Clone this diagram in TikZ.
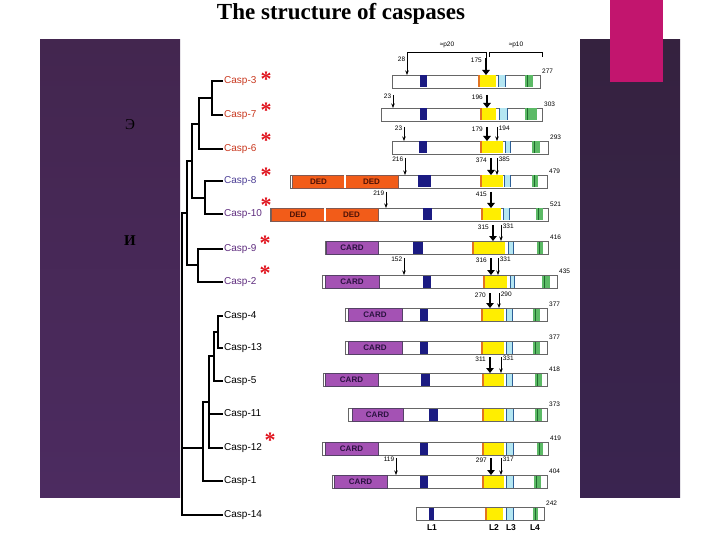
\documentclass[tikz,border=0pt]{standalone}
\usepackage{fontspec}
\setmainfont{Liberation Serif}
\setsansfont{Liberation Sans}
\usepackage{xcolor}
\usepackage{tikz}
\usetikzlibrary{arrows.meta}

\definecolor{apored}{HTML}{C8371E}
\definecolor{apoblue}{HTML}{4A3C94}
\definecolor{apopurple}{HTML}{5E2C7E}
\definecolor{starred}{HTML}{E0141E}
\definecolor{dedorange}{HTML}{F25C19}
\definecolor{dedtext}{HTML}{4E1206}
\definecolor{cardpurple}{HTML}{A452B4}
\definecolor{cardtext}{HTML}{2A1240}
\definecolor{navybox}{HTML}{1B1B82}
\definecolor{loopyellow}{HTML}{FFEE00}
\definecolor{looporange}{HTML}{E27420}
\definecolor{loopcyan}{HTML}{B4E6F2}
\definecolor{loopteal}{HTML}{2C5E96}
\definecolor{loopgreen}{HTML}{5CBA66}
\definecolor{loopdkgreen}{HTML}{1F6B2E}
\definecolor{pinktab}{HTML}{C2156E}
\definecolor{paneltop}{HTML}{43264F}
\definecolor{panelmid}{HTML}{6B3472}
\definecolor{panelbot}{HTML}{4C2B60}
\definecolor{rpaneltop}{HTML}{35223F}
\definecolor{rpanelmid}{HTML}{4D2A5C}
\definecolor{rpanelbot}{HTML}{3A2450}

\begin{document}
\begin{tikzpicture}[x=1pt,y=-1pt,
      casp node/.style={anchor=west,inner sep=1pt,font=\sffamily\fontsize{10}{11}\selectfont},
      star node/.style={anchor=base,inner sep=0pt,text=starred,font=\bfseries\fontsize{22}{22}\selectfont},
      tree line/.style={line width=1.4pt},
      bar node/.style={draw=black!60,line width=0.9pt,fill=white,inner sep=0pt,outer sep=0pt,minimum height=13pt,anchor=north west},
      ded node/.style={bar node,draw=dedtext!70,fill=dedorange,text=dedtext,font=\sffamily\bfseries\fontsize{8}{9}\selectfont},
      card node/.style={bar node,draw=cardtext!80,fill=cardpurple,text=cardtext,font=\sffamily\bfseries\fontsize{8}{9}\selectfont},
      len node/.style={anchor=south west,inner sep=0pt,font=\sffamily\fontsize{6.5}{7}\selectfont},
      cut thin/.style={-{Stealth[length=4.5pt,width=3.5pt]},line width=0.7pt},
      cut thick/.style={-{Triangle[length=5pt,width=7.5pt]},line width=2.4pt},
      lab left/.style={len node,anchor=north east,xshift=-1.5pt,yshift=1pt},
      lab right/.style={len node,anchor=north west,xshift=1.5pt,yshift=1pt},
      lab thick/.style={len node,anchor=north east,xshift=-3pt,yshift=1pt}]
    \useasboundingbox (0,0) rectangle (720,540);

    % slide background
    \shade[top color=paneltop,middle color=panelmid,bottom color=panelbot] (40,40) rectangle (180,497);
    \shade[top color=rpaneltop,middle color=rpanelmid,bottom color=rpanelbot] (580,40) rectangle (680,497);
    \fill[pinktab] (610,0) rectangle (663,82);

    \node[font=\bfseries\fontsize{23}{24}\selectfont] (title) at (341,14) {The structure of caspases};
    \node[font=\fontsize{15}{16}\selectfont,text=black] (ee) at (130,125) {Э};
    \node[font=\bfseries\fontsize{15}{16}\selectfont] (ii) at (130,241) {И};

    % names
    \node[casp node,text=apored] (c3) at (223,81) {Casp-3};
    \node[casp node,text=apored] (c7) at (223,115) {Casp-7};
    \node[casp node,text=apored] (c6) at (223,149) {Casp-6};
    \node[casp node,text=apoblue] (c8) at (223,181) {Casp-8};
    \node[casp node,text=apopurple] (c10) at (223,214) {Casp-10};
    \node[casp node,text=apopurple] (c9) at (223,249) {Casp-9};
    \node[casp node,text=apopurple] (c2) at (223,282) {Casp-2};
    \node[casp node] (c4) at (223,316) {Casp-4};
    \node[casp node] (c13) at (223,348) {Casp-13};
    \node[casp node] (c5) at (223,381) {Casp-5};
    \node[casp node] (c11) at (223,414) {Casp-11};
    \node[casp node] (c12) at (223,448) {Casp-12};
    \node[casp node] (c1) at (223,481) {Casp-1};
    \node[casp node] (c14) at (223,515) {Casp-14};

    \node[star node] (s3) at (266,87) {*};
    \node[star node] (s7) at (266,118) {*};
    \node[star node] (s6) at (266,148) {*};
    \node[star node] (s8) at (266,183) {*};
    \node[star node] (s10) at (266,213) {*};
    \node[star node] (s9) at (265,250) {*};
    \node[star node] (s2) at (265,280) {*};
    \node[star node] (s12) at (270,447) {*};

    % tree
    \coordinate (j37) at (212,98);
    \coordinate (j376) at (199,124);
    \coordinate (j810) at (205,198);
    \coordinate (jA) at (192,161);
    \coordinate (j92) at (198,265);
    \coordinate (jApo) at (187,213);
    \coordinate (j413) at (218,332);
    \coordinate (j4135) at (214,356);
    \coordinate (j1112) at (209,402);
    \coordinate (jInf) at (203,448);
    \coordinate (root) at (182,448);
    \path[draw,tree line]
        (j37) |- (c3.west)  (j37) |- (c7.west)
        (j376) |- (j37)  (j376) |- (c6.west)
        (j810) |- (c8.west)  (j810) |- (c10.west)
        (jA) |- (j376)  (jA) |- (j810)
        (j92) |- (c9.west)  (j92) |- (c2.west)
        (jApo) |- (jA)  (jApo) |- (j92)
        (j413) |- (c4.west)  (j413) |- (c13.west)
        (j4135) |- (j413)  (j4135) |- (c5.west)
        (j1112) |- (j4135)  (j1112) |- (c11.west)  (j1112) |- (c12.west)
        (jInf) |- (j1112)  (jInf) |- (c1.west)
        (root) |- (jApo)  (root) -- (jInf)  (root) |- (c14.west)
    ;

    % bars
    \foreach \n/\y/\xa/\xb/\ba/\bb/\ya/\yb/\ca/\cb/\ga/\gb/\len in {
        3/75/392/540/420/427/480/496/498/505/525/533/277,
        7/108/381/542/420/427/482/496/499/507/525/537/303,
        6/141/392/548/419/427/482/503/505/510/532/540/293,
        8/175/290/547/418/431/482/503/504/510/532/538/479,
        10/208/270/548/423/432/483/501/503/509/536/543/521,
        9/241/325/548/413/423/474/505/508/513/537/543/416,
        2/275/322/557/423/431/485/507/510/514/542/550/435,
        4/308/345/547/420/428/483/504/506/512/533/540/377,
        13/341/345/547/420/428/483/504/506/512/533/540/377,
        5/373/323/547/421/430/484/504/506/512/535/542/418,
        11/408/348/547/429/438/484/504/506/513/535/542/373,
        12/442/322/548/420/428/484/504/506/513/537/543/419,
        1/475/332/547/420/428/484/504/506/513/534/541/404,
        14/507/416/544/429/434/487/503/506/513/533/538/242}
    {
        \node[bar node,minimum width=\xb pt-\xa pt] (b\n) at (\xa,\y) {};
        \fill[navybox] (\ba,{\y+0.5}) rectangle (\bb,{\y+12.5});
        \fill[looporange] ({\ya-2.5},{\y+0.5}) rectangle (\ya,{\y+12.5});
        \fill[loopyellow] (\ya,{\y+0.5}) rectangle (\yb,{\y+12.5});
        \fill[loopcyan] (\ca,{\y+0.5}) rectangle (\cb,{\y+12.5});
        \draw[loopteal,line width=1pt] (\ca,{\y+0.5}) -- (\ca,{\y+12.5}) (\cb,{\y+0.5}) -- (\cb,{\y+12.5});
        \fill[loopgreen] (\ga,{\y+0.5}) rectangle (\gb,{\y+12.5});
        \draw[loopdkgreen,line width=1pt] ({\ga+2},{\y+0.5}) -- ({\ga+2},{\y+12.5});
        \node[len node] (n\n) at ({\xb+2},{\y-1}) {\len};
    }

    % prodomains
    \node[ded node,minimum width=53pt] (ded8a) at (292,175) {DED};
    \node[ded node,minimum width=53pt] (ded8b) at (345,175) {DED};
    \node[ded node,minimum width=54pt] (ded10a) at (271,208) {DED};
    \node[ded node,minimum width=53pt] (ded10b) at (325,208) {DED};
    \draw[white,line width=1.2pt] (ded8a.north east) -- (ded8a.south east);
    \draw[white,line width=1.2pt] (ded10a.north east) -- (ded10a.south east);
    \node[card node,minimum width=52pt] (card9) at (326,241) {CARD};
    \node[card node,minimum width=54pt] (card2) at (325,275) {CARD};
    \node[card node,minimum width=54pt] (card4) at (348,308) {CARD};
    \node[card node,minimum width=54pt] (card13) at (348,341) {CARD};
    \node[card node,minimum width=53pt] (card5) at (325,373) {CARD};
    \node[card node,minimum width=51pt] (card11) at (352,408) {CARD};
    \node[card node,minimum width=53pt] (card12) at (325,442) {CARD};
    \node[card node,minimum width=53pt] (card1) at (334,475) {CARD};

    % cleavage sites
    \foreach \x/\y/\b/\t in {407/58/3/28, 393/95/7/23, 404/127/6/23, 405/158/8/216,
        386/192/10/219, 404/258/2/152, 396/458/1/119}
    {
        \coordinate (k\b-\x) at (\x,\y);
        \draw[cut thin] (k\b-\x) -- (k\b-\x |- b\b.north) node[lab left,pos=0] (t\b-\x) {\t};
    }
    \foreach \x/\y/\b/\t in {497/127/6/194, 497/158/8/385, 501/225/9/331, 498/258/2/331,
        499/293/4/290, 501/357/5/331, 501/458/1/317}
    {
        \coordinate (k\b-\x) at (\x,\y);
        \draw[cut thin] (k\b-\x) -- (k\b-\x |- b\b.north) node[lab right,pos=0] (t\b-\x) {\t};
    }
    \foreach \x/\y/\b/\t in {486/58/3/175, 487/95/7/196, 487/127/6/179, 491/158/8/374,
        491/192/10/415, 493/225/9/315, 491/258/2/316, 490/293/4/270, 490/357/5/311, 491/458/1/297}
    {
        \coordinate (k\b-\x) at (\x,\y);
        \draw[cut thick] (k\b-\x) -- (k\b-\x |- b\b.north) node[lab thick,pos=0] (t\b-\x) {\t};
    }

    % p20 / p10
    \coordinate (g20l) at (407,52);
    \coordinate (g20r) at (486,52);
    \coordinate (g10a) at (489,57);
    \coordinate (g10l) at (489,52);
    \coordinate (g10r) at (542,52);
    \coordinate (g10b) at (542,57);
    \draw[line width=0.9pt] (k3-407) -- (g20l) -- (g20r) -- (k3-486);
    \draw[line width=0.9pt] (g10a) -- (g10l) -- (g10r) -- (g10b);
    \node[len node,anchor=center] (p20) at (447,45) {≈p20};
    \node[len node,anchor=center] (p10) at (516,45) {≈p10};

    % loops
    \node[font=\sffamily\bfseries\fontsize{8.5}{9}\selectfont] (l1) at (432,528) {L1};
    \node[font=\sffamily\bfseries\fontsize{8.5}{9}\selectfont] (l2) at (494,528) {L2};
    \node[font=\sffamily\bfseries\fontsize{8.5}{9}\selectfont] (l3) at (511,528) {L3};
    \node[font=\sffamily\bfseries\fontsize{8.5}{9}\selectfont] (l4) at (535,528) {L4};
\end{tikzpicture}
\end{document}
